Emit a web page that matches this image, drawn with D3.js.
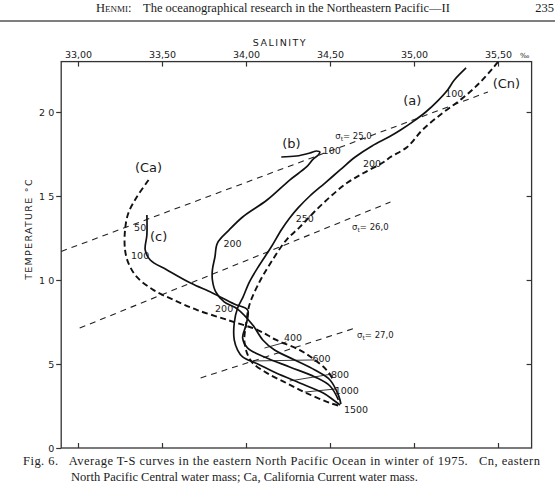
<!DOCTYPE html>
<html>
<head>
<meta charset="utf-8">
<script src="https://cdnjs.cloudflare.com/ajax/libs/d3/7.8.5/d3.min.js"></script>
<style>
  body { margin: 0; background: #fff; }
  svg text { fill: #1a1a1a; }
</style>
</head>
<body>
<div id="chart"></div>
<script>
// T-S curves, each point is [salinity, temperature]
var curveA = [[35.31,22.62],[35.24,21.90],[35.20,21.31],[35.14,20.65],[35.07,20.00],[34.99,19.40],
  [34.92,18.93],[34.85,18.51],[34.75,17.98],[34.65,17.32],[34.56,16.55],[34.47,15.77],[34.38,15.00],
  [34.31,14.29],[34.26,13.69],[34.21,12.98],[34.15,11.96],[34.08,10.89],[34.02,9.88],[33.98,8.93],
  [33.95,8.33],[33.93,7.44],[33.93,6.43],[33.95,5.83],[33.98,5.42],[34.07,5.00],[34.18,4.46],
  [34.32,3.87],[34.46,3.27],[34.52,2.86],[34.56,2.56]];

var curveB = [[34.21,17.32],[34.30,17.38],[34.38,17.56],[34.42,17.68],[34.44,17.62],[34.43,17.44],
  [34.40,17.20],[34.36,16.73],[34.26,15.95],[34.125,14.76],[33.98,13.75],[33.90,12.98],[33.83,12.20],
  [33.815,11.37],[33.80,10.60],[33.80,10.00],[33.82,9.29],[33.87,8.70],[33.95,8.27],[34.04,7.32],
  [34.10,6.43],[34.17,5.83],[34.29,5.24],[34.41,4.64],[34.50,4.05],[34.55,3.15],[34.565,2.62]];

var curveC = [[33.41,13.87],[33.41,12.68],[33.40,11.79],[33.43,11.19],[33.53,10.60],[33.67,9.82],
  [33.80,9.23],[33.93,8.57],[34.01,8.21],[34.00,7.32],[33.98,6.55],[34.01,5.95],[34.11,5.42],
  [34.26,4.82],[34.41,4.23],[34.50,3.69],[34.55,2.86]];

// water masses (dashed)
var curveCa = [[33.42,15.95],[33.35,14.94],[33.30,13.99],[33.28,12.98],[33.28,11.79],[33.30,11.01],
  [33.35,10.18],[33.45,9.40],[33.57,8.81],[33.71,8.21],[33.89,7.62],[34.07,7.02],[34.18,6.43],
  [34.32,5.83],[34.41,5.24],[34.48,4.64],[34.52,4.05]];

var curveCn = [[35.50,22.98],[35.47,22.62],[35.39,21.73],[35.29,20.83],[35.17,19.94],[35.05,18.93],
  [34.96,17.92],[34.86,17.32],[34.82,17.02],[34.70,16.37],[34.60,15.77],[34.50,14.94],[34.40,13.99],
  [34.32,13.15],[34.24,12.38],[34.15,11.07],[34.08,9.88],[34.02,8.51],[34.00,7.32],[33.99,6.43],
  [34.006,5.65],[34.04,5.06],[34.125,4.46],[34.24,3.87],[34.36,3.27],[34.50,2.68],[34.56,2.50]];

// sigma-t isolines (thin dashed)
var sigma25 = [[32.90,11.70],[35.44,21.19]];
var sigma26 = [[33.01,7.14],[34.86,14.64]];
var sigma27 = [[33.73,4.17],[34.65,7.14]];

// depth leader lines (thin solid)
var depthLeaders = [
  [[34.11,5.95],[34.24,6.31]],
  [[34.04,5.18],[34.40,5.24]],
  [[34.26,3.99],[34.51,4.40]],
  [[34.35,3.33],[34.53,3.51]]
];

// ticks
var salinityTicks = [33.0, 33.5, 34.0, 34.5, 35.0, 35.5];
var salinityLabels = ['33,00', '33,50', '34,00', '34,50', '35,00', '35,50'];
var tempTicks = [0, 5, 10, 15, 20];
var tempLabels = ['0', '5', '1 0', '1 5', '2 0'];

// curve names and depth labels [salinity, temperature, text]
var curveNames = [[34.99,20.71,'(a)'],[35.55,21.67,'(Cn)'],[34.27,18.15,'(b)'],[33.42,16.67,'(Ca)'],[33.48,12.56,'(c)']];
var depthLabels = [[33.37,13.15,'50'],[33.37,11.43,'100'],[34.51,17.68,'100'],[33.92,12.20,'200'],
  [33.87,8.33,'200'],[34.35,13.69,'250'],[34.75,16.96,'200'],[35.24,21.13,'100'],
  [34.28,6.55,'400'],[34.45,5.30,'600'],[34.56,4.40,'800'],[34.60,3.45,'1000'],[34.655,2.32,'1500']];
var sigmaLabels = [[34.64,18.57,'25,0'],[34.74,13.15,'26,0'],[34.77,6.73,'27,0']];

var W = 555, H = 488;
var sans = 'DejaVu Sans, sans-serif';
var serif = 'Liberation Serif, Times New Roman, serif';

var svg = d3.select('#chart').append('svg')
  .attr('width', W)
  .attr('height', H);

var x = d3.scaleLinear().domain([32.9, 35.7]).range([61.2, 531.6]);
var y = d3.scaleLinear().domain([0, 23]).range([448, 61.6]);

var line = d3.line()
  .x(function(d) { return x(d[0]); })
  .y(function(d) { return y(d[1]); })
  .curve(d3.curveCatmullRom.alpha(0.5));

var straight = d3.line()
  .x(function(d) { return x(d[0]); })
  .y(function(d) { return y(d[1]); });

// page header
svg.append('text')
  .attr('x', 96).attr('y', 12)
  .attr('font-family', serif).attr('font-size', 12.5)
  .style('font-variant', 'small-caps')
  .text('Henmi:');
svg.append('text')
  .attr('x', 143).attr('y', 12)
  .attr('font-family', serif).attr('font-size', 12.5)
  .text('The oceanographical research in the Northeastern Pacific\u2014II');
svg.append('text')
  .attr('x', 554).attr('y', 12)
  .attr('text-anchor', 'end')
  .attr('font-family', serif).attr('font-size', 12.5)
  .text('235');
svg.append('line')
  .attr('x1', 0).attr('x2', W).attr('y1', 21).attr('y2', 21)
  .attr('stroke', '#555').attr('stroke-width', 1.4);

// frame
svg.append('rect')
  .attr('x', x(32.9)).attr('y', y(23))
  .attr('width', x(35.7) - x(32.9)).attr('height', y(0) - y(23))
  .attr('fill', 'none').attr('stroke', '#333').attr('stroke-width', 1.3);

// top axis with labels
var topAxis = svg.append('g')
  .attr('transform', 'translate(0,' + y(23) + ')')
  .call(d3.axisTop(x).tickValues(salinityTicks).tickSizeInner(-5).tickSizeOuter(0).tickPadding(4)
    .tickFormat(function(d, i) { return salinityLabels[i]; }));
topAxis.select('.domain').remove();
topAxis.selectAll('text').attr('font-family', sans).attr('font-size', 9.5).attr('fill', '#1a1a1a');
topAxis.selectAll('line').attr('stroke', '#333').attr('stroke-width', 1.2);

svg.append('text')
  .attr('x', 520).attr('y', y(23) - 4)
  .attr('font-family', sans).attr('font-size', 7)
  .text('\u2030');

svg.append('text')
  .attr('x', 280).attr('y', 46)
  .attr('text-anchor', 'middle')
  .attr('font-family', sans).attr('font-size', 9.5)
  .attr('letter-spacing', 1.5)
  .text('SALINITY');

// bottom axis ticks
var bottomAxis = svg.append('g')
  .attr('transform', 'translate(0,' + y(0) + ')')
  .call(d3.axisBottom(x).tickValues(salinityTicks).tickSizeInner(-5).tickSizeOuter(0)
    .tickFormat(function() { return ''; }));
bottomAxis.select('.domain').remove();
bottomAxis.selectAll('line').attr('stroke', '#333').attr('stroke-width', 1.2);

// left axis with labels
var leftAxis = svg.append('g')
  .attr('transform', 'translate(' + x(32.9) + ',0)')
  .call(d3.axisLeft(y).tickValues(tempTicks).tickSizeInner(5).tickSizeOuter(0).tickPadding(2)
    .tickFormat(function(d, i) { return tempLabels[i]; }));
leftAxis.select('.domain').remove();
leftAxis.selectAll('text').attr('font-family', sans).attr('font-size', 9.5).attr('fill', '#1a1a1a');
leftAxis.selectAll('line').attr('stroke', '#333').attr('stroke-width', 1.2);

// right axis ticks
var rightAxis = svg.append('g')
  .attr('transform', 'translate(' + x(35.7) + ',0)')
  .call(d3.axisRight(y).tickValues(tempTicks.slice(1)).tickSizeInner(-5).tickSizeOuter(0)
    .tickFormat(function() { return ''; }));
rightAxis.select('.domain').remove();
rightAxis.selectAll('line').attr('stroke', '#333').attr('stroke-width', 1.2);

svg.append('text')
  .attr('transform', 'translate(28,229) rotate(-90)')
  .attr('text-anchor', 'middle')
  .attr('dominant-baseline', 'central')
  .attr('font-family', sans).attr('font-size', 9.5)
  .attr('letter-spacing', 1.3)
  .text('TEMPERATURE \u00b0C');

// sigma-t lines
[sigma25, sigma26, sigma27].forEach(function(s) {
  svg.append('path')
    .attr('d', straight(s))
    .attr('fill', 'none').attr('stroke', '#222')
    .attr('stroke-width', 1.1).attr('stroke-dasharray', '6,5');
});

// depth leaders
depthLeaders.forEach(function(s) {
  svg.append('path')
    .attr('d', straight(s))
    .attr('fill', 'none').attr('stroke', '#222').attr('stroke-width', 0.9);
});

// water mass curves
[curveCa, curveCn].forEach(function(c) {
  svg.append('path')
    .attr('d', line(c))
    .attr('fill', 'none').attr('stroke', '#111')
    .attr('stroke-width', 1.9).attr('stroke-dasharray', '6,3.5');
});

// station curves
[curveA, curveB, curveC].forEach(function(c) {
  svg.append('path')
    .attr('d', line(c))
    .attr('fill', 'none').attr('stroke', '#111')
    .attr('stroke-width', 1.7);
});

// labels
svg.selectAll('.curve-name')
  .data(curveNames)
  .enter().append('text')
  .attr('class', 'curve-name')
  .attr('x', function(d) { return x(d[0]); })
  .attr('y', function(d) { return y(d[1]); })
  .attr('text-anchor', 'middle').attr('dominant-baseline', 'central')
  .attr('font-family', sans).attr('font-size', 13)
  .text(function(d) { return d[2]; });

svg.selectAll('.depth')
  .data(depthLabels)
  .enter().append('text')
  .attr('class', 'depth')
  .attr('x', function(d) { return x(d[0]); })
  .attr('y', function(d) { return y(d[1]); })
  .attr('text-anchor', 'middle').attr('dominant-baseline', 'central')
  .attr('font-family', sans).attr('font-size', 9.5)
  .text(function(d) { return d[2]; });

var sig = svg.selectAll('.sigma')
  .data(sigmaLabels)
  .enter().append('text')
  .attr('class', 'sigma')
  .attr('x', function(d) { return x(d[0]); })
  .attr('y', function(d) { return y(d[1]); })
  .attr('text-anchor', 'middle').attr('dominant-baseline', 'central')
  .attr('font-family', sans).attr('font-size', 8.5);
sig.append('tspan').text('\u03c3');
sig.append('tspan').attr('font-size', 6).attr('dy', 2).text('t');
sig.append('tspan').attr('dy', -2).text(function(d) { return '= ' + d[2]; });

// caption
svg.append('text')
  .attr('x', 23).attr('y', 465)
  .attr('font-family', serif).attr('font-size', 12.5)
  .attr('textLength', 517).attr('lengthAdjust', 'spacing')
  .style('white-space', 'pre')
  .text('Fig. 6.   Average T-S curves in the eastern North Pacific Ocean in winter of 1975.   Cn, eastern');
svg.append('text')
  .attr('x', 71).attr('y', 481)
  .attr('font-family', serif).attr('font-size', 12.5)
  .text('North Pacific Central water mass; Ca, California Current water mass.');
</script>
</body>
</html>
